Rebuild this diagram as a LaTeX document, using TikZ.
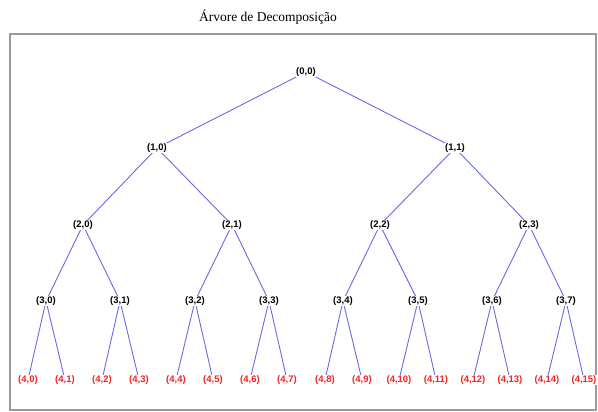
\documentclass[tikz,border=0pt]{standalone}
\usepackage{fontspec}
\setmainfont{Liberation Sans}
\newfontfamily\titlefont{Liberation Serif}
\usepackage{xcolor}
\usepackage{tikz}
\usetikzlibrary{backgrounds}
\definecolor{branchblue}{RGB}{105, 105, 230}
\definecolor{leafred}{RGB}{245, 35, 35}
\definecolor{framegray}{RGB}{155, 155, 155}
\tikzset{
    inode/.style={fill=white, inner sep=0.5pt, font=\fontsize{9.5}{10}\selectfont\bfseries},
    lnode/.style={inode, text=leafred},
    branch/.style={branchblue, line width=0.9pt}
}

\begin{document}
\begin{tikzpicture}[x=1pt, y=-1pt]
    \useasboundingbox (0,0) rectangle (598,412);

    % Title
    \node (title) at (268,17) {\titlefont\fontsize{13.5}{15}\selectfont Árvore de Decomposição};

    % Frame
    \draw[framegray, line width=1.3pt] (10,34) rectangle (596,410);

    % Level 0 and 1
    \node[inode] (n00) at (306,72) {(0,0)};
    \node[inode] (n10) at (157,148) {(1,0)};
    \node[inode] (n11) at (455,148) {(1,1)};

    % Level 2
    \node[inode] (n20) at (83,225) {(2,0)};
    \node[inode] (n21) at (232,225) {(2,1)};
    \node[inode] (n22) at (380,225) {(2,2)};
    \node[inode] (n23) at (529,225) {(2,3)};

    % Level 3
    \node[inode] (n30) at (46,301) {(3,0)};
    \node[inode] (n31) at (120,301) {(3,1)};
    \node[inode] (n32) at (195,301) {(3,2)};
    \node[inode] (n33) at (269,301) {(3,3)};
    \node[inode] (n34) at (343,301) {(3,4)};
    \node[inode] (n35) at (418,301) {(3,5)};
    \node[inode] (n36) at (492,301) {(3,6)};
    \node[inode] (n37) at (566,301) {(3,7)};

    % Level 4 (leaves)
    \node[lnode] (n40) at (28,380) {(4,0)};
    \node[lnode] (n41) at (65,380) {(4,1)};
    \node[lnode] (n42) at (102,380) {(4,2)};
    \node[lnode] (n43) at (139,380) {(4,3)};
    \node[lnode] (n44) at (176,380) {(4,4)};
    \node[lnode] (n45) at (213,380) {(4,5)};
    \node[lnode] (n46) at (250,380) {(4,6)};
    \node[lnode] (n47) at (287,380) {(4,7)};
    \node[lnode] (n48) at (325,380) {(4,8)};
    \node[lnode] (n49) at (362,380) {(4,9)};
    \node[lnode] (n410) at (399,380) {(4,10)};
    \node[lnode] (n411) at (436,380) {(4,11)};
    \node[lnode] (n412) at (473,380) {(4,12)};
    \node[lnode] (n413) at (510,380) {(4,13)};
    \node[lnode] (n414) at (547,380) {(4,14)};
    \node[lnode] (n415) at (584,380) {(4,15)};

    % Branches
    \begin{scope}[on background layer]
    \draw[branch] (n10.center) -- (n00.center) -- (n11.center);
    \draw[branch] (n20.center) -- (n10.center) -- (n21.center);
    \draw[branch] (n22.center) -- (n11.center) -- (n23.center);
    \draw[branch] (n30.center) -- (n20.center) -- (n31.center);
    \draw[branch] (n32.center) -- (n21.center) -- (n33.center);
    \draw[branch] (n34.center) -- (n22.center) -- (n35.center);
    \draw[branch] (n36.center) -- (n23.center) -- (n37.center);
    \draw[branch] (n40.center) -- (n30.center) -- (n41.center);
    \draw[branch] (n42.center) -- (n31.center) -- (n43.center);
    \draw[branch] (n44.center) -- (n32.center) -- (n45.center);
    \draw[branch] (n46.center) -- (n33.center) -- (n47.center);
    \draw[branch] (n48.center) -- (n34.center) -- (n49.center);
    \draw[branch] (n410.center) -- (n35.center) -- (n411.center);
    \draw[branch] (n412.center) -- (n36.center) -- (n413.center);
    \draw[branch] (n414.center) -- (n37.center) -- (n415.center);
    \end{scope}
\end{tikzpicture}
\end{document}
